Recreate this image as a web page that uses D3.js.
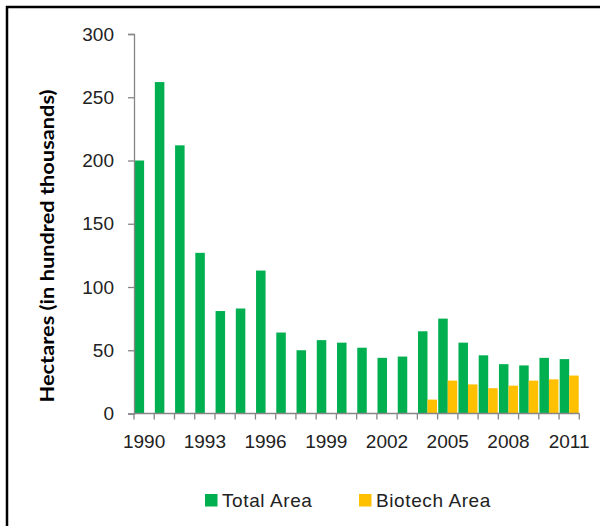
<!DOCTYPE html>
<html>
<head>
<meta charset="utf-8">
<script src="https://cdn.jsdelivr.net/npm/d3@7"></script>
<style>
  body { margin: 0; background: #fff; }
  svg { display: block; }
</style>
</head>
<body>
<svg id="chart" width="600" height="526"></svg>
<script>
const years = ["1990","1991","1992","1993","1994","1995","1996","1997","1998","1999","2000",
               "2001","2002","2003","2004","2005","2006","2007","2008","2009","2010","2011"];
const totalArea = [200, 262, 212, 127, 81, 83, 113, 64, 50, 58, 56, 52, 44, 45, 65, 75, 56, 46, 39, 38, 44, 43];
const biotechArea = [null, null, null, null, null, null, null, null, null, null, null, null, null, null, 11, 26, 23, 20, 22, 26, 27, 30];
const seriesNames = ["Total Area", "Biotech Area"];
const seriesColors = ["#00B050", "#FFC000"];
const yTicks = [0, 50, 100, 150, 200, 250, 300];
const xTickLabels = ["1990","1993","1996","1999","2002","2005","2008","2011"];

(function () {
const svg = d3.select("#chart");
const font = "'Liberation Sans', Arial, sans-serif";

// frame (top and left borders)
svg.append("line").attr("x1", 6).attr("x2", 600).attr("y1", 7).attr("y2", 7)
  .attr("stroke", "#000").attr("stroke-width", 2.5);
svg.append("line").attr("x1", 7).attr("x2", 7).attr("y1", 6).attr("y2", 526)
  .attr("stroke", "#000").attr("stroke-width", 2.5);

const pLeft = 134, pRight = 579.3, pTop = 34, pBottom = 413.5;

const x0 = d3.scaleBand().domain(years).range([pLeft, pRight]).paddingInner(0.06).paddingOuter(0.03);
const x1 = d3.scaleBand().domain(seriesNames).range([0, x0.bandwidth()]);
const y = d3.scaleLinear().domain([0, 300]).range([pBottom, pTop]);

// bars
const series = [totalArea, biotechArea];
series.forEach((vals, si) => {
  svg.append("g").selectAll("rect")
    .data(years.map((yr, i) => ({yr, v: vals[i]})).filter(d => d.v != null))
    .join("rect")
    .attr("x", d => x0(d.yr) + x1(seriesNames[si]))
    .attr("width", x1.bandwidth())
    .attr("y", d => y(d.v))
    .attr("height", d => y(0) - y(d.v))
    .attr("fill", seriesColors[si]);
});

const axisColor = "#868686";

// y axis
const yAxis = svg.append("g").attr("transform", `translate(${pLeft},0)`)
  .call(d3.axisLeft(y).tickValues(yTicks).tickSize(6).tickPadding(14));
yAxis.select(".domain").attr("stroke", axisColor).attr("stroke-width", 1.3);
yAxis.selectAll(".tick line").attr("stroke", axisColor).attr("stroke-width", 1.3);
yAxis.selectAll("text").attr("font-family", font).attr("font-size", 19).attr("fill", "#222");

// x axis: ticks at category boundaries
const xb = d3.scaleLinear().domain([0, years.length]).range([pLeft, pRight]);
const xAxisG = svg.append("g").attr("transform", `translate(0,${pBottom})`);
xAxisG.append("line").attr("x1", pLeft).attr("x2", pRight).attr("y1", 0).attr("y2", 0)
  .attr("stroke", axisColor).attr("stroke-width", 1.3);
xAxisG.selectAll("line.tk").data(d3.range(years.length + 1)).join("line")
  .attr("class", "tk")
  .attr("x1", d => xb(d)).attr("x2", d => xb(d)).attr("y1", 0).attr("y2", 6)
  .attr("stroke", axisColor).attr("stroke-width", 1.3);
xAxisG.selectAll("text").data(xTickLabels).join("text")
  .attr("x", d => xb(years.indexOf(d) + 0.5))
  .attr("y", 34)
  .attr("text-anchor", "middle")
  .attr("font-family", font).attr("font-size", 19).attr("fill", "#222")
  .text(d => d);

// y axis title
svg.append("text")
  .attr("transform", "translate(54,246) rotate(-90)")
  .attr("text-anchor", "middle")
  .attr("font-family", "Lato, 'Liberation Sans', sans-serif")
  .attr("font-weight", "bold")
  .attr("font-size", 18)
  .attr("textLength", 313)
  .attr("lengthAdjust", "spacingAndGlyphs")
  .attr("fill", "#000")
  .text("Hectares (in hundred thousands)");

// legend
const legendItems = [
  {name: seriesNames[0], color: seriesColors[0], x: 205},
  {name: seriesNames[1], color: seriesColors[1], x: 359}
];
const lg = svg.append("g");
legendItems.forEach(it => {
  lg.append("rect").attr("x", it.x).attr("y", 494).attr("width", 12.5).attr("height", 12.5).attr("fill", it.color);
  lg.append("text").attr("x", it.x + 17).attr("y", 506.5)
    .attr("font-family", font).attr("font-size", 19).attr("fill", "#222")
    .attr("letter-spacing", 0.6)
    .text(it.name);
});
})();
</script>
</body>
</html>
